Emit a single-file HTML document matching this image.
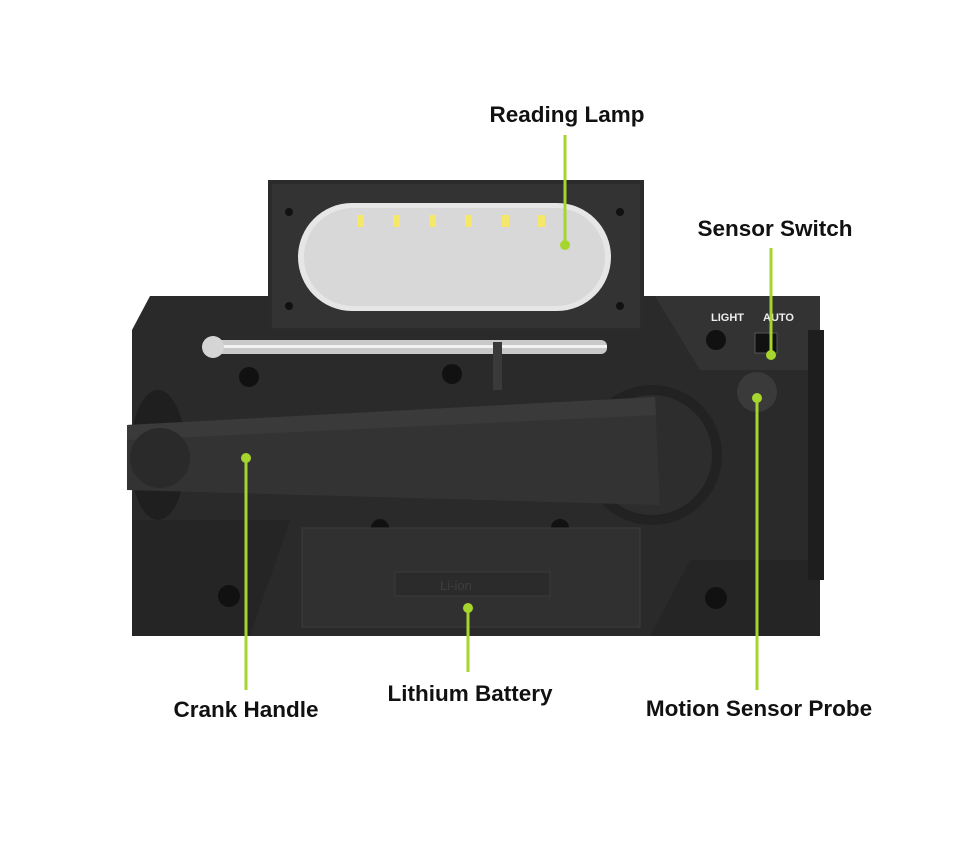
<!DOCTYPE html>
<html><head><meta charset="utf-8"><style>
html,body{margin:0;padding:0;background:#fff;}
svg{display:block}
text{font-family:"Liberation Sans",sans-serif;}
</style></head><body>
<svg width="967" height="841" viewBox="0 0 967 841" xmlns="http://www.w3.org/2000/svg">
<rect width="967" height="841" fill="#fff"/>
<!-- main body -->
<path d="M150 296 L820 296 L820 636 L150 636 L132 600 L132 330 Z" fill="#2a2a2a"/>
<path d="M655 296 L820 296 L820 370 L700 370 Z" fill="#333"/>
<path d="M132 520 L290 520 L250 636 L132 636 Z" fill="#252525"/>
<path d="M690 560 L820 560 L820 636 L650 636 Z" fill="#252525"/>
<rect x="808" y="330" width="16" height="250" fill="#1e1e1e"/>
<!-- lamp panel (in front) -->
<rect x="268" y="180" width="376" height="152" fill="#2b2b2b"/>
<rect x="272" y="184" width="368" height="144" fill="#333"/>
<rect x="298" y="203" width="313" height="108" rx="54" fill="#e6e6e6"/>
<rect x="304" y="208" width="301" height="98" rx="49" fill="#d8d8d8"/>
<g fill="#f4e76a">
<rect x="357" y="215" width="7" height="12"/><rect x="393" y="215" width="7" height="12"/>
<rect x="429" y="215" width="7" height="12"/><rect x="465" y="215" width="7" height="12"/>
<rect x="502" y="215" width="7" height="12"/><rect x="538" y="215" width="7" height="12"/>
</g>
<g fill="#111"><circle cx="289" cy="212" r="4"/><circle cx="620" cy="212" r="4"/><circle cx="289" cy="306" r="4"/><circle cx="620" cy="306" r="4"/></g>
<!-- antenna -->
<rect x="212" y="340" width="395" height="14" rx="6" fill="#c9c9c9"/>
<rect x="212" y="345" width="395" height="3" fill="#f2f2f2"/>
<circle cx="213" cy="347" r="11" fill="#d5d5d5"/>
<rect x="493" y="342" width="9" height="48" fill="#3a3a3a"/>
<!-- screws -->
<g fill="#111"><circle cx="249" cy="377" r="10"/><circle cx="452" cy="374" r="10"/><circle cx="229" cy="596" r="11"/><circle cx="716" cy="598" r="11"/><circle cx="380" cy="528" r="9"/><circle cx="560" cy="528" r="9"/><circle cx="716" cy="340" r="10"/></g>
<!-- crank -->
<circle cx="652" cy="455" r="70" fill="#222"/>
<circle cx="652" cy="455" r="60" fill="#2d2d2d"/>
<ellipse cx="158" cy="455" rx="28" ry="65" fill="#1f1f1f"/>
<path d="M127 425 L655 397 L660 505 L127 490 Z" fill="#333"/>
<path d="M127 425 L655 397 L656 415 L127 440 Z" fill="#3a3a3a"/>
<circle cx="160" cy="458" r="30" fill="#2a2a2a"/>
<!-- battery door -->
<rect x="302" y="528" width="338" height="99" fill="#303030" stroke="#3c3c3c"/>
<rect x="395" y="572" width="155" height="24" fill="#2b2b2b" stroke="#3a3a3a"/>
<text x="440" y="590" font-size="13" fill="#3d3d3d">Li-ion</text>
<!-- sensor -->
<circle cx="757" cy="392" r="20" fill="#3a3a3a"/>
<rect x="755" y="333" width="22" height="20" fill="#111" stroke="#555"/>
<text x="711" y="321" font-size="11" font-weight="bold" fill="#eee">LIGHT</text>
<text x="763" y="321" font-size="11" font-weight="bold" fill="#eee">AUTO</text>
<!-- callouts -->
<g stroke="#a6d62e" stroke-width="3"><line x1="565" y1="135" x2="565" y2="245"/><line x1="771" y1="248" x2="771" y2="355"/><line x1="246" y1="458" x2="246" y2="690"/><line x1="468" y1="608" x2="468" y2="672"/><line x1="757" y1="398" x2="757" y2="690"/></g>
<g fill="#a6d62e"><circle cx="565" cy="245" r="5"/><circle cx="771" cy="355" r="5"/><circle cx="246" cy="458" r="5"/><circle cx="468" cy="608" r="5"/><circle cx="757" cy="398" r="5"/></g>
<g font-size="22.5" font-weight="bold" fill="#111" text-anchor="middle">
<text x="567" y="122">Reading Lamp</text>
<text x="775" y="236">Sensor Switch</text>
<text x="246" y="717">Crank Handle</text>
<text x="470" y="701">Lithium Battery</text>
<text x="759" y="716">Motion Sensor Probe</text>
</g>
</svg>
</body></html>
